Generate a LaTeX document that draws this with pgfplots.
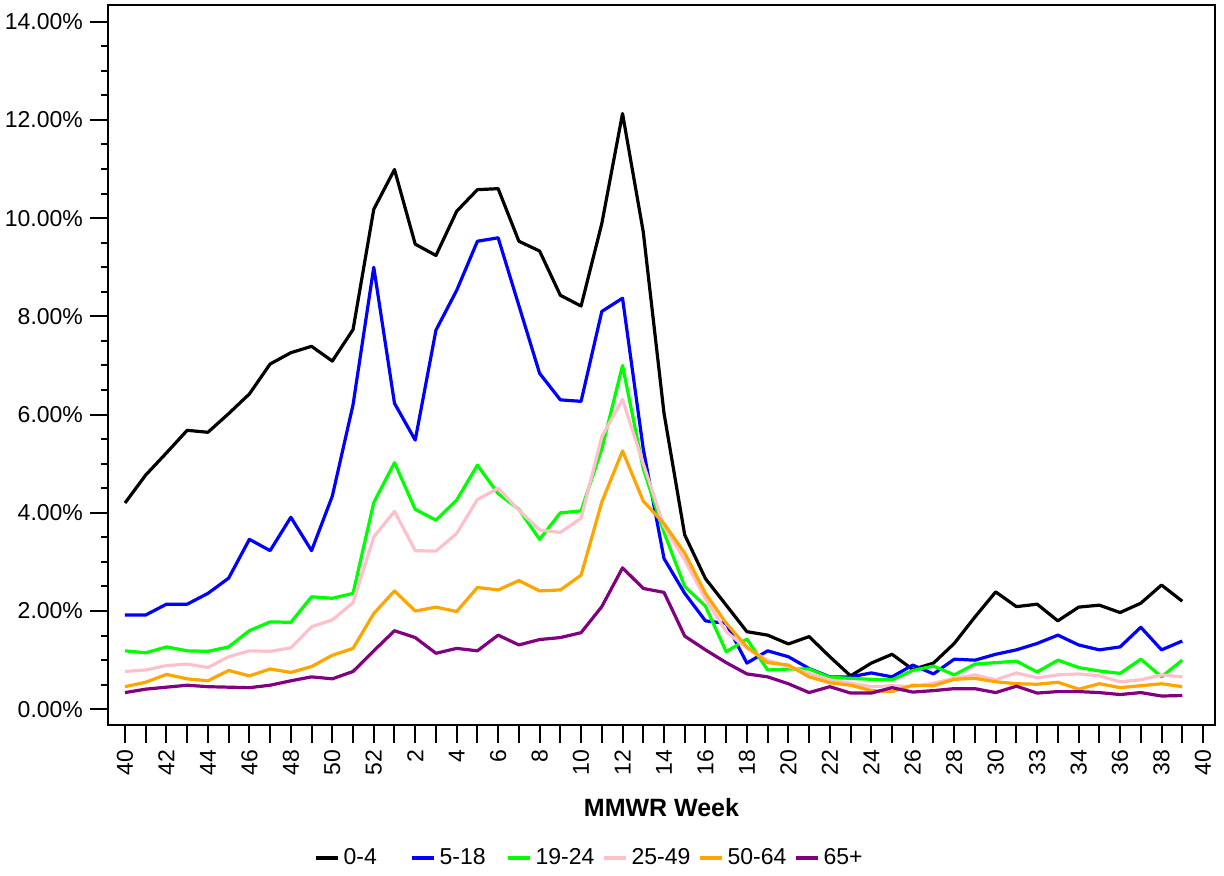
\documentclass[border=0pt]{standalone}
\usepackage{fontspec}
\setmainfont{Liberation Sans}
\usepackage{pgfplots}
\usepackage{pgfplotstable}
\pgfplotsset{compat=1.18}
\definecolor{cpink}{RGB}{255,192,203}
\definecolor{corange}{RGB}{255,165,0}
\definecolor{cpurple}{RGB}{128,0,128}
\definecolor{cgreen}{RGB}{0,255,0}
\definecolor{cblue}{RGB}{0,0,255}

\pgfplotstableread{
i a b c d e f
0 4.20 1.92 1.19 0.77 0.46 0.34
1 4.77 1.92 1.15 0.80 0.55 0.41
2 5.22 2.14 1.27 0.89 0.71 0.45
3 5.68 2.14 1.19 0.92 0.62 0.49
4 5.64 2.36 1.18 0.85 0.58 0.46
5 6.02 2.67 1.27 1.07 0.79 0.45
6 6.42 3.46 1.60 1.19 0.68 0.44
7 7.03 3.23 1.78 1.18 0.82 0.49
8 7.26 3.91 1.77 1.25 0.75 0.58
9 7.39 3.23 2.29 1.68 0.87 0.66
10 7.09 4.34 2.26 1.82 1.10 0.62
11 7.73 6.20 2.36 2.17 1.24 0.77
12 10.18 9.00 4.21 3.51 1.95 1.19
13 10.99 6.23 5.02 4.03 2.41 1.60
14 9.47 5.48 4.07 3.23 2.00 1.46
15 9.24 7.72 3.85 3.22 2.08 1.14
16 10.14 8.53 4.26 3.58 1.99 1.24
17 10.58 9.53 4.97 4.27 2.48 1.19
18 10.60 9.60 4.39 4.50 2.43 1.51
19 9.53 8.22 4.07 4.05 2.62 1.31
20 9.33 6.84 3.46 3.65 2.41 1.42
21 8.43 6.30 4.00 3.60 2.43 1.46
22 8.21 6.27 4.04 3.89 2.73 1.56
23 9.89 8.10 5.30 5.55 4.22 2.09
24 12.13 8.37 7.00 6.31 5.26 2.88
25 9.72 5.30 4.90 5.00 4.24 2.46
26 6.03 3.07 3.60 3.72 3.78 2.38
27 3.55 2.36 2.50 3.04 3.18 1.49
28 2.66 1.80 2.10 2.25 2.36 1.21
29 2.12 1.75 1.17 1.58 1.75 0.95
30 1.58 0.94 1.43 1.24 1.27 0.72
31 1.51 1.19 0.80 1.00 0.95 0.66
32 1.33 1.07 0.82 0.87 0.90 0.52
33 1.48 0.83 0.82 0.73 0.66 0.34
34 1.07 0.66 0.65 0.60 0.54 0.46
35 0.68 0.66 0.63 0.53 0.49 0.33
36 0.94 0.74 0.61 0.46 0.38 0.33
37 1.12 0.66 0.60 0.48 0.36 0.44
38 0.81 0.90 0.79 0.46 0.49 0.35
39 0.94 0.72 0.88 0.53 0.48 0.38
40 1.34 1.02 0.70 0.63 0.61 0.42
41 1.88 1.00 0.92 0.70 0.63 0.42
42 2.39 1.12 0.95 0.60 0.56 0.34
43 2.09 1.21 0.98 0.74 0.52 0.47
44 2.14 1.34 0.76 0.64 0.51 0.33
45 1.80 1.51 1.00 0.70 0.55 0.36
46 2.08 1.31 0.85 0.72 0.41 0.36
47 2.12 1.21 0.78 0.68 0.52 0.34
48 1.97 1.27 0.73 0.56 0.44 0.30
49 2.16 1.67 1.02 0.60 0.48 0.34
50 2.53 1.21 0.66 0.70 0.52 0.27
51 2.20 1.39 1.00 0.66 0.46 0.28
}\data

\begin{document}
\begin{tikzpicture}
\path[use as bounding box] (-54pt,-75.5pt) rectangle (558pt,362.5pt);
\begin{axis}[
  at={(0,0)}, anchor=south west,
  scale only axis,
  width=553.5pt, height=360pt,
  xmin=-0.82, xmax=52.58,
  ymin=-0.32, ymax=14.34,
  axis line style={line width=1pt},
  tick style={line width=1pt, black},
  tick align=outside,
  tick pos=left,
  major tick length=9pt,
  minor tick length=3.5pt,
  xtick={0,...,52},
  xticklabels={40,,42,,44,,46,,48,,50,,52,,2,,4,,6,,8,,10,,12,,14,,16,,18,,20,,22,,24,,26,,28,,30,,33,,34,,36,,38,,40},
  xticklabel style={rotate=90, anchor=east, font=\fontsize{11.5}{13}\selectfont},
  ytick={0,2,...,14},
  minor y tick num=3,
  yticklabel={\pgfmathprintnumber[fixed,fixed zerofill,precision=2]{\tick}\%},
  yticklabel style={font=\fontsize{11.5}{13}\selectfont},
  /pgf/number format/assume math mode=true,
  xlabel={\textbf{MMWR Week}},
  xlabel style={at={(rel axis cs:0.5,0)}, anchor=center, yshift=-41.5pt, font=\fontsize{12.5}{14}\selectfont},
  legend columns=6,
  legend style={at={(rel axis cs:0.1857,0)}, anchor=west, yshift=-66.5pt, draw=none, fill=none, inner sep=0pt, outer sep=0pt, column sep=0pt, font=\fontsize{11.5}{13}\selectfont},
  legend image code/.code={\draw[#1, line width=2pt] (0pt,0pt) -- (11pt,0pt);},
  every axis plot/.append style={line width=1.6pt, line join=round},
]
\addplot[black] table[x=i,y=a] {\data}; \addlegendentry{\makebox[31pt][l]{0-4}}
\addplot[cblue] table[x=i,y=b] {\data}; \addlegendentry{\makebox[31pt][l]{5-18}}
\addplot[cgreen] table[x=i,y=c] {\data}; \addlegendentry{\makebox[31pt][l]{19-24}}
\addplot[cpink] table[x=i,y=d] {\data}; \addlegendentry{\makebox[31pt][l]{25-49}}
\addplot[corange] table[x=i,y=e] {\data}; \addlegendentry{\makebox[31pt][l]{50-64}}
\addplot[cpurple] table[x=i,y=f] {\data}; \addlegendentry{\makebox[31pt][l]{65+}}
\end{axis}
\end{tikzpicture}
\end{document}
